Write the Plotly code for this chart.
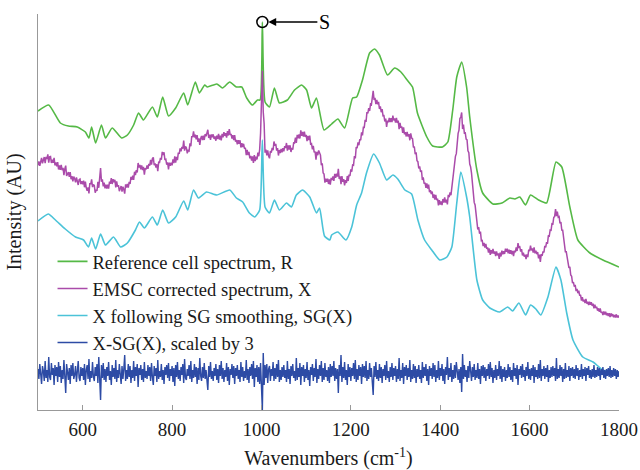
import numpy as np
import plotly.graph_objects as go

# ---------------- data ----------------
# Reference cell spectrum R (wavenumber, intensity AU)
r_x = [500, 524, 550, 568, 588, 606, 614, 620, 629, 642, 651, 666, 687, 700, 714, 725, 736, 756, 767, 779,
       792, 808, 826, 835, 852, 861, 873, 879, 900, 913, 929, 944, 956, 967, 980, 991, 997, 1002, 1008, 1018,
       1029, 1040, 1058, 1074, 1090, 1101, 1112, 1123, 1140, 1157, 1171, 1186, 1204, 1213, 1226, 1242, 1253,
       1264, 1282, 1298, 1312, 1326, 1338, 1349, 1370, 1383, 1405, 1417, 1428, 1437, 1448, 1459, 1466, 1482,
       1495, 1518, 1538, 1556, 1567, 1578, 1591, 1602, 1620, 1638, 1659, 1672, 1690, 1708, 1735, 1764, 1800]
r_y = [299, 305, 287, 284, 283, 278, 272, 283, 267, 285, 272, 282, 272, 275, 285, 297, 290, 303, 293, 313,
       294, 302, 317, 305, 328, 317, 325, 323, 326, 322, 328, 323, 323, 312, 305, 310, 310, 388, 308, 303,
       322, 307, 310, 320, 325, 320, 302, 312, 280, 286, 291, 282, 312, 313, 330, 357, 361,
       355, 335, 342, 338, 330, 323, 297, 273, 264, 263, 268, 300, 333, 348, 323, 293, 240,
       217, 206, 207, 212, 211, 213, 205, 215, 210, 207, 248, 243, 203, 170, 157, 150, 143]

# SG-smoothed spectrum SG(X)
sg_x = [500, 523, 539, 561, 584, 602, 613, 620, 629, 640, 651, 669, 685, 700, 718, 727, 738, 756, 767, 779,
        792, 808, 826, 835, 848, 859, 877, 900, 929, 944, 958, 973, 985, 996, 1002, 1008, 1018, 1029, 1040,
        1056, 1067, 1078, 1092, 1108, 1123, 1130, 1141, 1153, 1157, 1171, 1189, 1202, 1213, 1224, 1235, 1251,
        1264, 1280, 1294, 1305, 1321, 1336, 1350, 1365, 1381, 1399, 1415, 1426, 1437, 1446, 1459, 1466, 1482,
        1495, 1511, 1533, 1551, 1562, 1576, 1591, 1602, 1614, 1625, 1641, 1659, 1670, 1683, 1697, 1719, 1742,
        1764, 1800]
sg_y = [189, 196, 190, 181, 173, 170, 163, 172, 161, 176, 165, 173, 163, 167, 180, 188, 182, 193, 185, 200,
        187, 193, 209, 200, 220, 212, 218, 215, 220, 212, 208, 197, 193, 200, 270, 203, 197, 210, 200,
        207, 203, 215, 220, 213, 197, 202, 174, 170, 175, 178, 170, 183, 205, 217, 237, 256,
        247, 230, 235, 231, 220, 216, 190, 170, 160, 150, 153, 163, 207, 238, 213, 193, 130,
        110, 102, 98, 103, 99, 107, 95, 105, 101, 95, 113, 143, 130, 97, 70, 53, 48,
        40, 36]

# X - SG(X), scaled by 3, sampled every 2 cm-1 from 500 to 1800
resid_x = list(range(500, 1801, 2))
resid_scaled = [
    4, -6, 9, -3, -11, 7, 2, -8, 12, -5, 3, -9, 16, -4, -7, 10, -2, 5, -12, 8, -3, 6, -9, 11, -4,
    7, -10, 3, -6, 13, -8, -20, 9, 2, -7, 5, -11, 8, -3, 10, -6, -2, 7, -9, 4, 12, -5, -8, 6, -3,
    5, -7, 9, -12, 3, 8, -6, 14, -9, 2, -5, 11, -4, -8, 6, -3, 9, -10, 16, -6, -27, 8, -5, 10, -7,
    4, -9, 6, -3, 11, -7, 2, -12, 8, -4, 5, -6, 13, -9, 3, -5, 9, -2, -11, 7, -6, 4, 18, -8, 3,
    -6, 9, -4, 7, -10, 3, -5, 12, -8, 6, -3, 9, -14, 5, -2, 8, -7, 4, -9, 11, -5, 2, -6, 8, -3,
    6, -8, 10, -4, -12, 7, -3, 5, -9, 13, -6, 2, -4, 9, -7, 3, -11, 6, -2, 8, -5, 10, -8, 4, -3,
    7, -9, 5, -13, 8, -4, 11, -6, 3, -8, 6, -2, 9, -10, 14, -5, -7, 4, -3, 8, -6, 12, -9, 3, -5,
    9, -4, 6, -11, 5, -7, 15, -3, -8, 6, -5, 10, -6, 3, -9, -17, 7, -4, 11, -6, 2, -8, 5, -3, 9,
    -7, 4, -10, 8, -3, 12, -6, 5, -9, 3, -4, 10, -8, 6, -12, 4, -2, 9, -5, 7, -11, 5, -3, 8, -6,
    3, -9, 11, -4, 6, -8, 2, -5, 13, -7, 4, -10, 6, -3, 9, -6, 12, -14, 5, -4, 8, -9, 6, -11, 10,
    -15, -37, 20, -12, 8, -5, 9, -10, 4, 7, -8, 4, -3, 11, -8, 5, -6, 9, -4, 13, -9, 3, -7, 6, -4,
    8, -5, 3, -9, 12, -6, 4, -11, 7, -3, 9, -5, 2, -8, 15, -7, 5, -4, 10, -12, 6, -3, 8, -9, 4,
    -5, 11, -7, 3, -13, 6, -2, 9, -8, 5, -4, 14, -10, 4, -6, 8, -3, 12, -9, 5, -7, 10, -4, 3, -8,
    6, -10, 9, -4, 7, -3, 12, -8, 5, -6, 4, -20, 8, -3, 18, -9, 6, -5, 11, -7, 3, -12, 9, -4, 6,
    -8, 5, -3, 10, -6, 13, -9, 4, -7, 8, -3, 6, -11, 9, -4, 7, -5, 12, -8, 3, -6, 10, -4, 5, -9,
    -22, 7, -4, 11, -6, 3, -8, 9, -5, 6, -10, 4, -3, 8, -7, 12, -5, 2, -9, 6, -4, 10, -7, 5, -3,
    7, -9, 4, -6, 15, -8, 3, -5, 10, -11, 6, -3, 8, -7, 5, -4, 13, -9, 3, -6, 9, -5, 7, -10, 4,
    -4, 8, -6, 3, -10, 11, -5, 6, -3, 9, -8, 4, -12, 7, -3, 5, -6, 10, -4, 8, -9, 3, -5, 12, -7,
    5, -3, 9, -8, 4, -11, 6, -2, 16, -7, 5, -4, 10, -9, 3, -6, 8, -5, 11, -3, -7, 4, -10, 6, -19,
    19, -6, 8, -4, 3, -9, 7, -5, 12, -3, -8, 6, -4, 9, -7, 3, -5, 10, -6, 4, -11, 7, -3, 8, -5,
    6, -8, 4, -3, 9, -6, 11, -4, 5, -10, 3, -5, 8, -7, 4, -3, 12, -6, 7, -9, 4, -4, 6, -8, 3,
    -5, 9, -4, 6, -7, 3, -9, 10, -3, 5, -6, 8, -12, 4, -2, 7, -5, 9, -4, 3, -8, 6, -3, 11, -6,
    4, -7, 5, -3, 8, -10, 6, -4, 3, -6, 9, -5, 13, -8, 4, -3, 7, -6, 5, -4, 8, -9, 3, -5, 6,
    -4, 7, -3, 5, -8, 15, -6, 4, -5, 8, -3, 6, -9, 4, -6, 10, -5, 3, -4, 7, -8, 5, -3, 6, -5,
    4, -6, 8, -3, 5, -7, 3, -4, 9, -6, 4, -3, 6, -8, 5, -2, 7, -5, 3, -6, 4, -4, 8, -5, 3,
    -4, 6, -3, 5, -7, 4, -2, 6, -5, 3, -6, 4, -3, 5, -4, 7, -5, 3, -4, 5, -3, 4, -6, 3, -4,
    2,
]

x_ticks = [600, 800, 1000, 1200, 1400, 1600, 1800]
names = ["Reference cell spectrum, R", "EMSC corrected spectrum, X",
         "X following SG smoothing, SG(X)", "X-SG(X), scaled by 3"]

# vertical display offsets (stacked spectra)
X_OFFSET = 57
RESID_BASE = 37

# ---------------- derived ----------------
rx = np.array(resid_x, dtype=float)
rs = np.array(resid_scaled, dtype=float)
sg_on_grid = np.interp(rx, sg_x, sg_y)
x_spec = sg_on_grid + X_OFFSET - rs / 3.0

COL_R = "#55B946"
COL_X = "#AA4BAA"
COL_SG = "#4BC3D8"
COL_N = "#2D4BA5"
SERIF = "'Liberation Serif', 'Times New Roman', serif"
TXT = "#1a1a1a"

fig = go.Figure()
fig.add_trace(go.Scatter(x=r_x, y=r_y, mode="lines", name=names[0],
                         line=dict(color=COL_R, width=1.6, shape="spline", smoothing=0.5)))
fig.add_trace(go.Scatter(x=resid_x, y=x_spec, mode="lines", name=names[1],
                         line=dict(color=COL_X, width=1.5)))
fig.add_trace(go.Scatter(x=sg_x, y=sg_y, mode="lines", name=names[2],
                         line=dict(color=COL_SG, width=1.6, shape="spline", smoothing=0.5)))
fig.add_trace(go.Scatter(x=resid_x, y=rs + RESID_BASE, mode="lines", name=names[3],
                         line=dict(color=COL_N, width=1.4)))

# marker on the spike S
imax = int(np.argmax(r_y))
fig.add_trace(go.Scatter(x=[r_x[imax]], y=[r_y[imax]], mode="markers", showlegend=False,
                         marker=dict(symbol="circle-open", size=11, color="black",
                                     line=dict(width=1.5, color="black"))))
fig.add_annotation(x=r_x[imax], y=r_y[imax], text="S", showarrow=True,
                   ax=62, ay=0, arrowhead=2, arrowsize=1.2, arrowwidth=1.3,
                   arrowcolor="black", standoff=6,
                   font=dict(family=SERIF, size=20, color="black"))

fig.update_layout(
    width=640, height=470,
    margin=dict(l=38, r=21, t=14, b=60),
    paper_bgcolor="white", plot_bgcolor="white",
    font=dict(family=SERIF, size=19, color=TXT),
    showlegend=True,
    legend=dict(x=0.025, y=0.422, xanchor="left", yanchor="top",
                bgcolor="rgba(0,0,0,0)", font=dict(family=SERIF, size=18.5, color=TXT),
                tracegroupgap=0),
    xaxis=dict(range=[500, 1800], tickvals=x_ticks, ticktext=[str(t) for t in x_ticks],
               ticks="inside", ticklen=5, tickcolor="#999999", showline=True,
               linecolor="#999999", linewidth=1, showgrid=False, zeroline=False,
               ticklabelstandoff=2, automargin=False,
               title=dict(text="Wavenumbers (cm<sup>-1</sup>)", standoff=14,
                          font=dict(family=SERIF, size=20, color=TXT)),
               tickfont=dict(family=SERIF, size=19, color=TXT)),
    yaxis=dict(range=[0, 396], showticklabels=False, ticks="", showline=True,
               linecolor="#999999", linewidth=1, showgrid=False, zeroline=False,
               automargin=False,
               title=dict(text="Intensity (AU)", standoff=10,
                          font=dict(family=SERIF, size=20, color=TXT))),
)

fig.write_html("out.html")
